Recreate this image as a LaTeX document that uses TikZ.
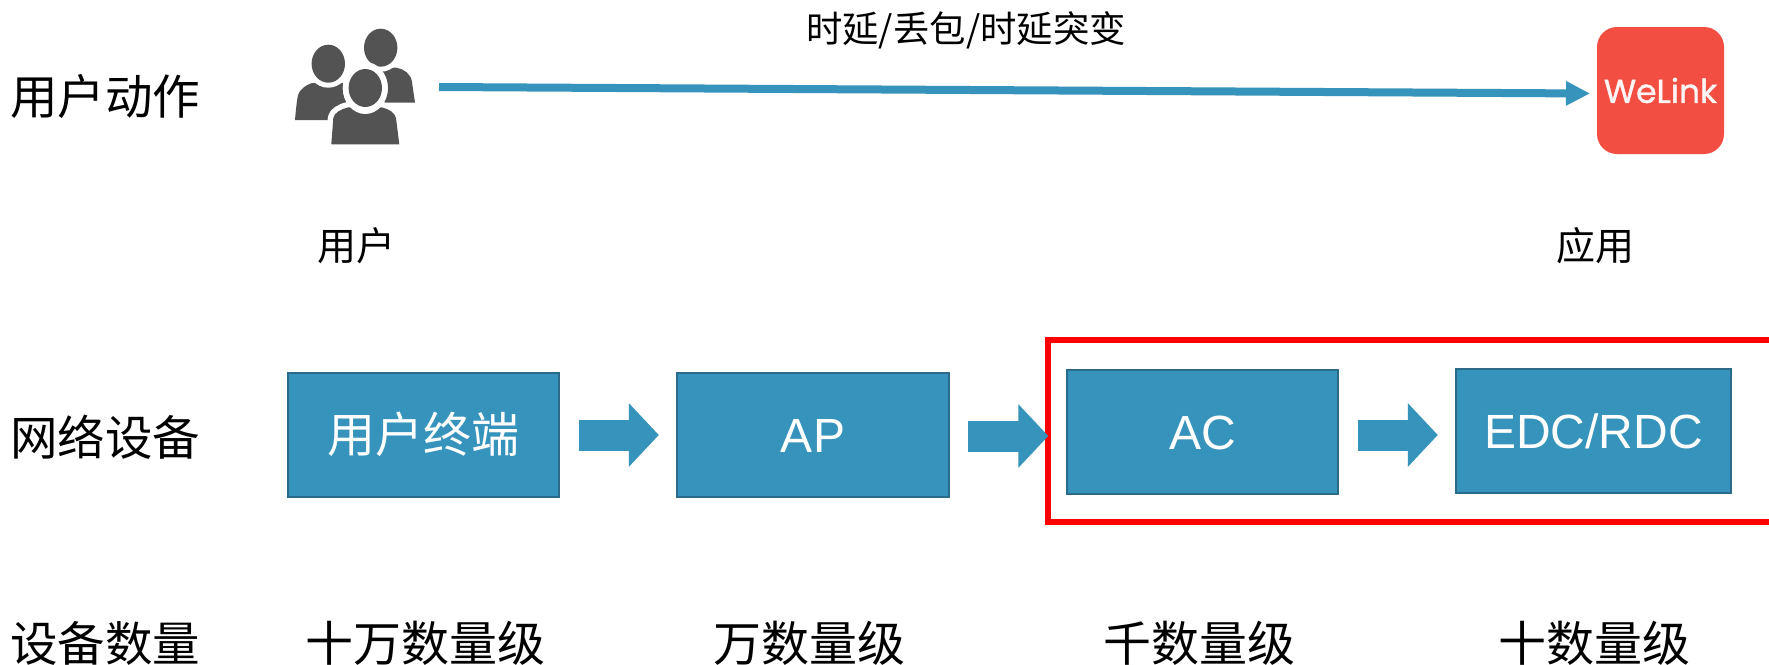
\documentclass[tikz,border=0pt]{standalone}
\usepackage{fontspec}
\usetikzlibrary{arrows.meta,calc}
\setmainfont{Liberation Sans}
\newfontfamily\cjk{Noto Sans CJK SC}
\newfontfamily\wl[FakeBold=1.2]{Poppins}
\definecolor{boxfill}{HTML}{3693BB}
\definecolor{boxedge}{HTML}{2A6A8B}
\definecolor{iconc}{HTML}{535353}
\definecolor{wlred}{HTML}{F24E42}
\tikzset{
  bluebox/.style={draw=boxedge,line width=2.6pt,fill=boxfill,text=white,inner sep=0pt,
    text height=34pt,text depth=0pt,font=\fontsize{48}{50}\selectfont},
  labelbig/.style={inner sep=0pt,text=black,font=\cjk\fontsize{48}{50}\selectfont},
  labelrow/.style={inner sep=0pt,text=black,font=\cjk\fontsize{47.5}{50}\selectfont},
  labelmid/.style={inner sep=0pt,text=black,font=\cjk\fontsize{36.4}{40}\selectfont},
  labelsub/.style={inner sep=0pt,text=black,font=\cjk\fontsize{39}{42}\selectfont},
  fatarrow/.style={draw=boxfill,line width=31pt,-{Triangle[length=30pt,width=62pt]}},
  thinarrow/.style={draw=boxfill,line width=8pt,-{Triangle[length=24pt,width=23pt]}},
  person/.style={fill=iconc,draw=none},
  halo/.style={fill=white,draw=white,line width=11pt,line join=round},
  cut/.style={fill=white,draw=none}
}
\begin{document}
\begin{tikzpicture}[x=1pt,y=-1pt]
\useasboundingbox (0,0) rectangle (1769,664);
\fill[white] (0,0) rectangle (1769,664);
% row labels
\node[labelrow,anchor=west] (l1) at (10,96) {用户动作};
\node[labelrow,anchor=west] (l2) at (10,437) {网络设备};
\node[labelrow,anchor=west] (l3) at (10,643) {设备数量};
% people icon
\fill[person] (295,120) .. controls (296,108) and (297,100) .. (298,95)
  .. controls (300,89) and (306,85) .. (312,83) -- (352,83) -- (352,120) -- cycle;
\fill[cut] (328.3,63.7) ellipse (22 and 24);
\fill[person] (328.3,63.7) ellipse (16.7 and 19);
\fill[person] (370,68) -- (396.7,67.7) .. controls (404,69) and (411,74) .. (412,82)
  -- (415,102.7) -- (370,102.7) -- cycle;
\fill[cut] (380.7,47.7) ellipse (22 and 24);
\fill[person] (380.7,47.7) ellipse (16.7 and 19);
\path[halo] (331.3,144.3) -- (333.3,118) .. controls (334,113) and (341,109) .. (348.3,107.3)
  -- (381.7,107.3) .. controls (389,109) and (395,113) .. (396,118) -- (399.3,144.3) -- cycle;
\fill[cut] (365.3,88) ellipse (22.5 and 25);
\fill[person] (331.3,144.3) -- (333.3,118) .. controls (334,113) and (341,109) .. (348.3,107.3)
  -- (381.7,107.3) .. controls (389,109) and (395,113) .. (396,118) -- (399.3,144.3) -- cycle;
\fill[cut] (365.3,88) ellipse (22.5 and 26);
\fill[person] (365.3,88) ellipse (16.7 and 19);
% welink tile
\node[fill=wlred,draw=none,rounded corners=20pt,minimum width=127pt,minimum height=127pt,
  inner sep=0pt,text=white!94!wlred,font=\wl\fontsize{33}{35}\selectfont] (welink) at (1660.5,90.5) {\raisebox{-1pt}{WeLink}};
\coordinate (src) at (439,87);
\coordinate (dst) at (1590,93.5);
\draw[thinarrow] (src) -- (dst);
\node[labelmid] (top) at (966,30) {时延/丢包/时延突变};
\node[labelsub] (user) at (356.5,246) {用户};
\node[labelsub] (app) at (1595,246) {应用};
% red frame
\draw[red,line width=5.7pt,line join=miter] (1772,340.3) -- (1048,340.3) -- (1048,522) -- (1772,522);
% device boxes
\node[bluebox,minimum width=271pt,minimum height=124pt] (term) at (423.5,435) {\cjk 用户终端};
\node[bluebox,minimum width=272pt,minimum height=124pt] (ap) at (813,435) {AP};
\node[bluebox,minimum width=271pt,minimum height=124pt] (ac) at (1202.5,432) {AC};
\node[bluebox,minimum width=275pt,minimum height=124pt] (edc) at (1593.5,431) {EDC/RDC};
\coordinate (a1s) at ($(term.east)+(18.5,0)$);
\coordinate (a1e) at ($(a1s)+(80,0)$);
\coordinate (a2s) at ($(ap.east)+(18,1)$);
\coordinate (a2e) at ($(a2s)+(80,0)$);
\coordinate (a3s) at ($(ac.east)+(18.5,3)$);
\coordinate (a3e) at ($(a3s)+(80,0)$);
\draw[fatarrow] (a1s) -- (a1e);
\draw[fatarrow] (a2s) -- (a2e);
\draw[fatarrow] (a3s) -- (a3e);
% counts
\node[labelbig] (c1) at (425,643) {十万数量级};
\node[labelbig] (c2) at (809,643) {万数量级};
\node[labelbig] (c3) at (1199,643) {千数量级};
\node[labelbig] (c4) at (1594,643) {十数量级};
\end{tikzpicture}
\end{document}
